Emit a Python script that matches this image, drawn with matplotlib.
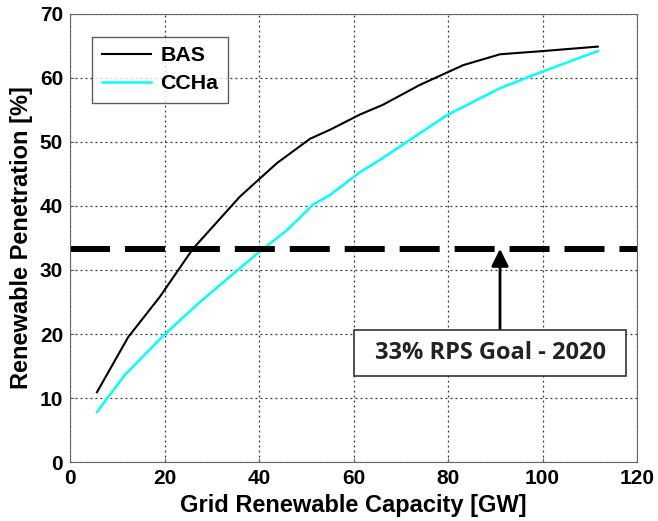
import numpy as np
import matplotlib.pyplot as plt
from matplotlib.patches import Rectangle

# values
bas_x = [5.7, 12.3, 19, 26, 36, 43.8, 50.8, 55, 61.4, 66.2, 74, 83.2, 91, 100, 111.7]
bas_y = [10.9, 19.5, 25.8, 33.3, 41.5, 46.7, 50.5, 51.9, 54.3, 55.8, 58.9, 62.0, 63.7, 64.2, 64.9]
ccha_x = [5.7, 11.6, 19.7, 27.5, 40, 45.9, 51.4, 55, 61.4, 65.6, 79.8, 91, 100, 111.7]
ccha_y = [7.8, 13.6, 19.7, 25.0, 32.8, 36.2, 40.2, 41.7, 45.3, 47.2, 54.2, 58.4, 61.0, 64.2]
goal = 33.3
arrow_x = 91
box_x0, box_x1, box_y0, box_y1 = 60.2, 117.7, 13.4, 20.7

plt.rcParams['font.family'] = ['Liberation Sans', 'DejaVu Sans']

fig = plt.figure(figsize=(6.58, 5.21), dpi=100)
ax = fig.add_axes([0.1064, 0.1132, 0.8617, 0.8600])

ax.plot(bas_x, bas_y, color='black', lw=1.5, label='BAS')
ax.plot(ccha_x, ccha_y, color='#00ffff', lw=1.8, label='CCHa')
ax.axhline(goal, color='black', lw=4.3, dashes=(6.7, 2.5))

ax.annotate('', xy=(arrow_x, goal), xytext=(arrow_x, box_y1),
            arrowprops=dict(arrowstyle='-|>', color='black', lw=2, mutation_scale=26,
                            shrinkA=0, shrinkB=0))
ax.add_patch(Rectangle((box_x0, box_y0), box_x1 - box_x0, box_y1 - box_y0,
                       fc='white', ec='#333333', lw=1.2, zorder=4))
ax.text((box_x0 + box_x1) / 2, (box_y0 + box_y1) / 2, '33% RPS Goal - 2020',
        ha='center', va='center', fontsize=17, fontweight='bold',
        family=['Open Sans', 'DejaVu Sans'], color='#222222', zorder=5)

ax.set_xlim(0, 120)
ax.set_ylim(0, 70)
ax.set_xticks(np.arange(0, 121, 20))
ax.set_yticks(np.arange(0, 71, 10))
ax.grid(True, color='#333333', linestyle=(0, (1.5, 2.5)), lw=0.9)
for s in ax.spines.values():
    s.set_color('#666666')
ax.tick_params(labelsize=15, direction='in', length=3, color='#666666', pad=5)
for lab in ax.get_xticklabels() + ax.get_yticklabels():
    lab.set_fontweight('bold')

ax.set_xlabel('Grid Renewable Capacity [GW]', fontsize=17, fontweight='bold', labelpad=4)
ax.set_ylabel('Renewable Penetration [%]', fontsize=17, fontweight='bold', labelpad=5)

leg = ax.legend(loc='upper left', bbox_to_anchor=(0.039, 0.949), borderaxespad=0,
                prop={'weight': 'bold', 'size': 15.4}, fancybox=False, edgecolor='#333333',
                handlelength=2.3, handletextpad=0.45, borderpad=0.45, labelspacing=0.4)
leg.get_frame().set_linewidth(1.0)

fig.savefig('out.png', dpi=100)
